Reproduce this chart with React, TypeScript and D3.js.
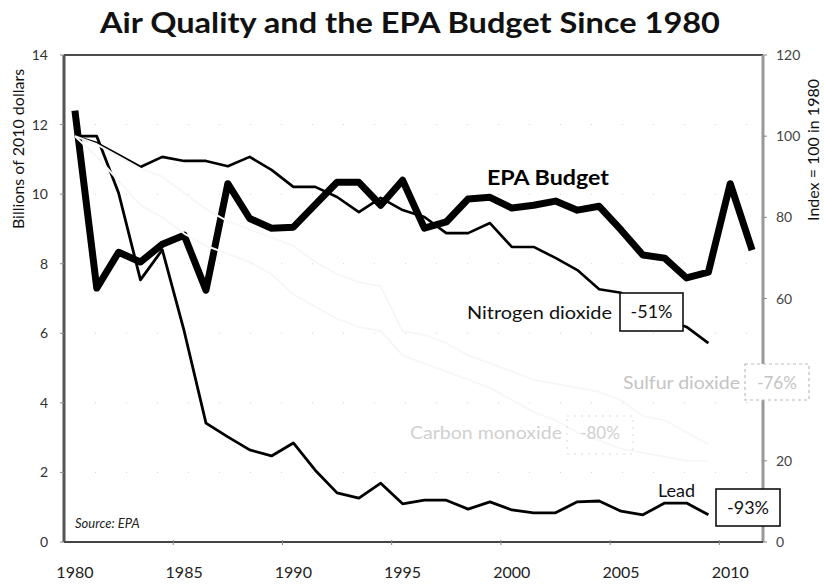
import React from "react";
import * as d3 from "d3";

const years = [1980, 1981, 1982, 1983, 1984, 1985, 1986, 1987, 1988, 1989, 1990, 1991, 1992, 1993, 1994, 1995, 1996, 1997, 1998, 1999, 2000, 2001, 2002, 2003, 2004, 2005, 2006, 2007, 2008, 2009, 2010, 2011];
const epaBudget = [12.4, 7.3, 8.33, 8.05, 8.56, 8.82, 7.24, 10.3, 9.3, 9.02, 9.05, 9.7, 10.34, 10.34, 9.68, 10.4, 9.02, 9.2, 9.86, 9.91, 9.6, 9.68, 9.8, 9.54, 9.65, 8.97, 8.25, 8.16, 7.59, 7.76, 10.3, 8.39];
const lead = [100, 100, 86, 64.6, 72, 52, 29.3, 25.9, 22.7, 21.2, 24.4, 17.7, 12.1, 10.8, 14.5, 9.4, 10.3, 10.3, 8.1, 9.9, 7.9, 7.2, 7.2, 9.9, 10.1, 7.6, 6.7, 9.6, 9.6, 6.7];
const nitrogenDioxide = [100, 98.3, 95.4, 92.4, 94.9, 93.9, 93.9, 92.6, 94.9, 91.7, 87.5, 87.5, 85, 81.3, 84.8, 81.8, 80.1, 76.1, 76.1, 78.6, 72.7, 72.7, 70, 67, 62.3, 61.4, 58, 55, 53, 49];
const sulfurDioxide = [100, 98, 95, 92, 90, 86, 82, 79, 77, 75, 73, 69, 66, 64, 63, 52, 51, 49, 46, 44, 42, 40, 39, 38, 37, 35, 31, 30, 27, 24];
const carbonMonoxide = [100, 95, 89, 83, 80, 76, 73, 71, 69, 66, 61, 58, 55, 53, 52, 46, 44, 42, 40, 38, 35, 32, 30, 27, 25, 23, 22, 21, 20, 20];
const leftTicks = [0, 2, 4, 6, 8, 10, 12, 14];
const rightTicks = [0, 20, 40, 60, 80, 100, 120];
const xLabels = [1980, 1985, 1990, 1995, 2000, 2005, 2010];

const W = 824, H = 584;
const L = 64, R = 763, T = 55, B = 542;
const FONT = "Lato, 'Open Sans', sans-serif";

export default function App() {
  const x = d3.scaleBand<number>().domain(years).range([L, R]).paddingInner(0).paddingOuter(0);
  const cx = (yr: number) => (x(yr) as number) + x.bandwidth() / 2;
  const yL = d3.scaleLinear().domain([0, 14]).range([B, T]);
  const yR = d3.scaleLinear().domain([0, 120]).range([B, T]);

  const lineL = d3.line<number>().x((_, i) => cx(years[i])).y((d) => yL(d));
  const lineR = d3.line<number>().x((_, i) => cx(years[i])).y((d) => yR(d));

  const boundaryTicks = xLabels.filter((v) => v > 1980).map((v) => x(v) as number);

  return (
    <svg width={W} height={H} style={{ display: "block", position: "absolute", left: 0, top: 0, background: "#fff" }}>
      <rect x={0} y={0} width={W} height={H} fill="#fff" />
      {/* title */}
      <text x={410} y={33} textAnchor="middle" fontFamily={FONT} fontWeight={700} fontSize={29} fill="#111" textLength={620} lengthAdjust="spacingAndGlyphs">
        Air Quality and the EPA Budget Since 1980
      </text>

      {/* faint gridlines */}
      {leftTicks.filter((t) => t > 0 && t < 14).map((t) => (
        <line key={"g" + t} x1={L} x2={R} y1={yL(t)} y2={yL(t)} stroke="#d4d4d4" strokeWidth={1} strokeDasharray="1 30" />
      ))}

      {/* data lines */}
      <path d={lineR(lead) || ""} fill="none" stroke="#000" strokeWidth={2.8} strokeLinejoin="round" />
      <path d={lineR(nitrogenDioxide) || ""} fill="none" stroke="#000" strokeWidth={2.6} strokeLinejoin="round" />
      <path d={lineL(epaBudget) || ""} fill="none" stroke="#000" strokeWidth={7} strokeLinejoin="round" />
      <path d={lineR(sulfurDioxide) || ""} fill="none" stroke="#f7f7f7" strokeWidth={2} strokeLinejoin="round" />
      <path d={lineR(carbonMonoxide) || ""} fill="none" stroke="#f7f7f7" strokeWidth={2} strokeLinejoin="round" />

      {/* axes */}
      <line x1={L} x2={R} y1={T} y2={T} stroke="#111" strokeWidth={1.6} />
      <line x1={L} x2={L} y1={T} y2={B} stroke="#555" strokeWidth={3} />
      <line x1={R} x2={R} y1={T} y2={B} stroke="#999" strokeWidth={3} />
      <line x1={L} x2={R} y1={B} y2={B} stroke="#444" strokeWidth={2} />
      {boundaryTicks.map((bx, i) => (
        <line key={"xt" + i} x1={bx} x2={bx} y1={B - 2} y2={B + 3} stroke="#888" strokeWidth={1} />
      ))}
      {leftTicks.map((t) => (
        <g key={"l" + t}>
          <line x1={L - 4} x2={L} y1={yL(t)} y2={yL(t)} stroke="#888" strokeWidth={1} />
          <text x={48} y={yL(t) + 5} textAnchor="end" fontFamily={FONT} fontSize={14} fill="#333">{t}</text>
        </g>
      ))}
      {rightTicks.map((t) => (
        <g key={"r" + t}>
          <line x1={R} x2={R + 4} y1={yR(t)} y2={yR(t)} stroke="#888" strokeWidth={1} />
          {t !== 40 && (
            <text x={776} y={yR(t) + 5} textAnchor="start" fontFamily={FONT} fontSize={14} fill="#444">{t}</text>
          )}
        </g>
      ))}
      {xLabels.map((v) => (
        <text key={"x" + v} x={cx(v)} y={578} textAnchor="middle" fontFamily={FONT} fontSize={16} fill="#222">{v}</text>
      ))}

      {/* axis titles */}
      <text transform={`translate(24,149) rotate(-90)`} textAnchor="middle" fontFamily={FONT} fontSize={16} fill="#111">Billions of 2010 dollars</text>
      <text transform={`translate(819,150) rotate(-90)`} textAnchor="middle" fontFamily={FONT} fontSize={16} fill="#111">Index = 100 in 1980</text>

      {/* in-plot labels */}
      <text x={487} y={185} fontFamily={FONT} fontWeight={700} fontSize={21} fill="#000" textLength={122} lengthAdjust="spacingAndGlyphs">EPA Budget</text>

      <text x={467} y={319} fontFamily={FONT} fontSize={18} fill="#111" textLength={145} lengthAdjust="spacingAndGlyphs">Nitrogen dioxide</text>
      <rect x={620} y={293} width={63} height={38} fill="#fff" stroke="#111" strokeWidth={1.6} />
      <text x={651.5} y={318} textAnchor="middle" fontFamily={FONT} fontSize={18} fill="#111">-51%</text>

      <text x={623} y={389} fontFamily={FONT} fontSize={17} fill="#c4c4c4" textLength={117} lengthAdjust="spacingAndGlyphs">Sulfur dioxide</text>
      <rect x={745} y={364} width={64} height={36} fill="#fff" stroke="#bbb" strokeWidth={1.2} strokeDasharray="3 3" />
      <text x={777} y={389} textAnchor="middle" fontFamily={FONT} fontSize={17} fill="#c4c4c4">-76%</text>

      <text x={410} y={439} fontFamily={FONT} fontSize={17} fill="#d0d0d0" textLength={152} lengthAdjust="spacingAndGlyphs">Carbon monoxide</text>
      <rect x={567} y={416} width={66} height={38} fill="none" stroke="#dadada" strokeWidth={1} strokeDasharray="2 5" />
      <text x={600} y={439} textAnchor="middle" fontFamily={FONT} fontSize={17} fill="#d0d0d0">-80%</text>

      <text x={658} y={497} fontFamily={FONT} fontSize={18} fill="#111">Lead</text>
      <rect x={716} y={489} width={64} height={37} fill="#fff" stroke="#111" strokeWidth={1.6} />
      <text x={748} y={514} textAnchor="middle" fontFamily={FONT} fontSize={18} fill="#111">-93%</text>

      <text x={75} y={528} fontFamily={FONT} fontStyle="italic" fontSize={13} fill="#222">Source: EPA</text>
    </svg>
  );
}
